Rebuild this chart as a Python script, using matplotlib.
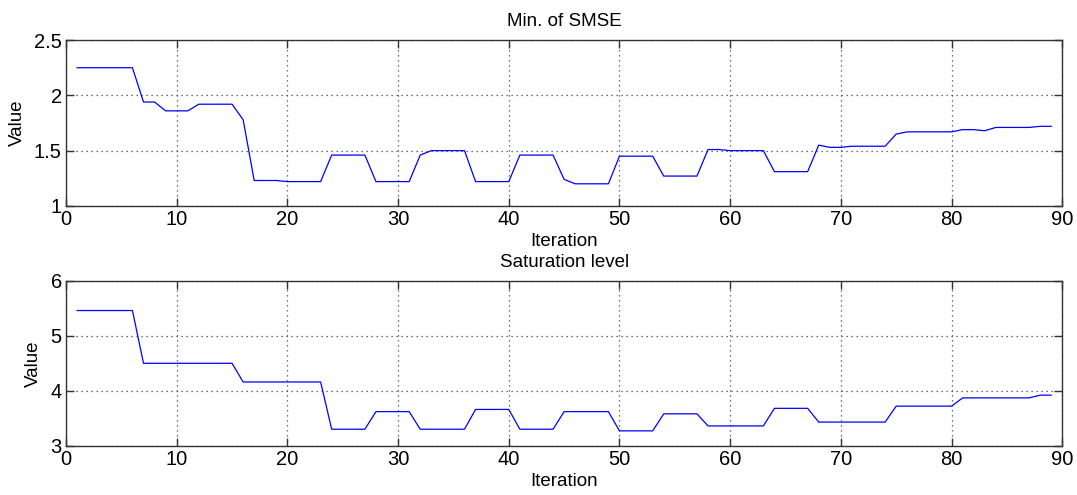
import numpy as np
import matplotlib
matplotlib.use("Agg")
import matplotlib.pyplot as plt

# ============================================================
# DATA
# ============================================================
iterations = list(range(1, 90))

min_smse = [
    2.25, 2.25, 2.25, 2.25, 2.25, 2.25,           # 1-6
    1.94, 1.94, 1.86, 1.86, 1.86,                 # 7-11
    1.92, 1.92, 1.92, 1.92, 1.78,                 # 12-16
    1.23, 1.23, 1.23, 1.22, 1.22, 1.22, 1.22,     # 17-23
    1.46, 1.46, 1.46, 1.46,                       # 24-27
    1.22, 1.22, 1.22, 1.22,                       # 28-31
    1.46, 1.50, 1.50, 1.50, 1.50,                 # 32-36
    1.22, 1.22, 1.22, 1.22,                       # 37-40
    1.46, 1.46, 1.46, 1.46,                       # 41-44
    1.24, 1.20, 1.20, 1.20, 1.20,                 # 45-49
    1.45, 1.45, 1.45, 1.45,                       # 50-53
    1.27, 1.27, 1.27, 1.27,                       # 54-57
    1.51, 1.51, 1.50, 1.50, 1.50, 1.50,           # 58-63
    1.31, 1.31, 1.31, 1.31,                       # 64-67
    1.55, 1.53, 1.53, 1.54, 1.54, 1.54, 1.54,     # 68-74
    1.65, 1.67, 1.67, 1.67, 1.67, 1.67,           # 75-80
    1.69, 1.69, 1.68, 1.71, 1.71, 1.71, 1.71,     # 81-87
    1.72, 1.72,                                   # 88-89
]

saturation = [
    5.46, 5.46, 5.46, 5.46, 5.46, 5.46,           # 1-6
    4.50, 4.50, 4.50, 4.50, 4.50, 4.50, 4.50, 4.50, 4.50,  # 7-15
    4.16, 4.16, 4.16, 4.16, 4.16, 4.16, 4.16, 4.16,        # 16-23
    3.30, 3.30, 3.30, 3.30,                       # 24-27
    3.62, 3.62, 3.62, 3.62,                       # 28-31
    3.30, 3.30, 3.30, 3.30, 3.30,                 # 32-36
    3.66, 3.66, 3.66, 3.66,                       # 37-40
    3.30, 3.30, 3.30, 3.30,                       # 41-44
    3.62, 3.62, 3.62, 3.62, 3.62,                 # 45-49
    3.27, 3.27, 3.27, 3.27,                       # 50-53
    3.58, 3.58, 3.58, 3.58,                       # 54-57
    3.36, 3.36, 3.36, 3.36, 3.36, 3.36,           # 58-63
    3.68, 3.68, 3.68, 3.68,                       # 64-67
    3.43, 3.43, 3.43, 3.43, 3.43, 3.43, 3.43,     # 68-74
    3.72, 3.72, 3.72, 3.72, 3.72, 3.72,           # 75-80
    3.87, 3.87, 3.87, 3.87, 3.87, 3.87, 3.87,     # 81-87
    3.92, 3.92,                                   # 88-89
]

x_ticks = [0, 10, 20, 30, 40, 50, 60, 70, 80, 90]
top_yticks = [1, 1.5, 2, 2.5]
top_yticklabels = ["1", "1.5", "2", "2.5"]
bot_yticks = [3, 4, 5, 6]

plt.rcParams["font.family"] = ["Liberation Sans", "DejaVu Sans"]
plt.rcParams["font.size"] = 13.5


def style_axes(ax, yticks, ylim, yticklabels=None):
    ax.set_xlim(0, 90)
    ax.set_ylim(*ylim)
    ax.set_xticks(x_ticks)
    ax.set_yticks(yticks)
    if yticklabels is not None:
        ax.set_yticklabels(yticklabels)
    ax.tick_params(direction="in", top=True, right=True, length=6,
                   width=1, color="#333333", labelsize=14.5, pad=3)
    ax.grid(True, linestyle=(0, (1, 3)), color="#444444", linewidth=0.9)
    for sp in ax.spines.values():
        sp.set_color("#333333")
        sp.set_linewidth(1.0)
    ax.set_xlabel("Iteration", fontsize=13.5, labelpad=3)
    ax.set_ylabel("Value", fontsize=13.5, labelpad=6)


fig = plt.figure(figsize=(10.77, 4.95), dpi=100)

ax1 = fig.add_axes([0.0613, 0.584, 0.925, 0.335])
ax1.plot(iterations, min_smse, color="#0000ff", linewidth=0.9)
style_axes(ax1, top_yticks, (1, 2.5), top_yticklabels)
ax1.set_title("Min. of SMSE", fontsize=13.5, pad=10)

ax2 = fig.add_axes([0.0613, 0.0996, 0.925, 0.333])
ax2.plot(iterations, saturation, color="#0000ff", linewidth=0.9)
style_axes(ax2, bot_yticks, (3, 6))
ax2.set_title("Saturation level", fontsize=13.5, pad=10)

fig.savefig("out.png", dpi=100)
